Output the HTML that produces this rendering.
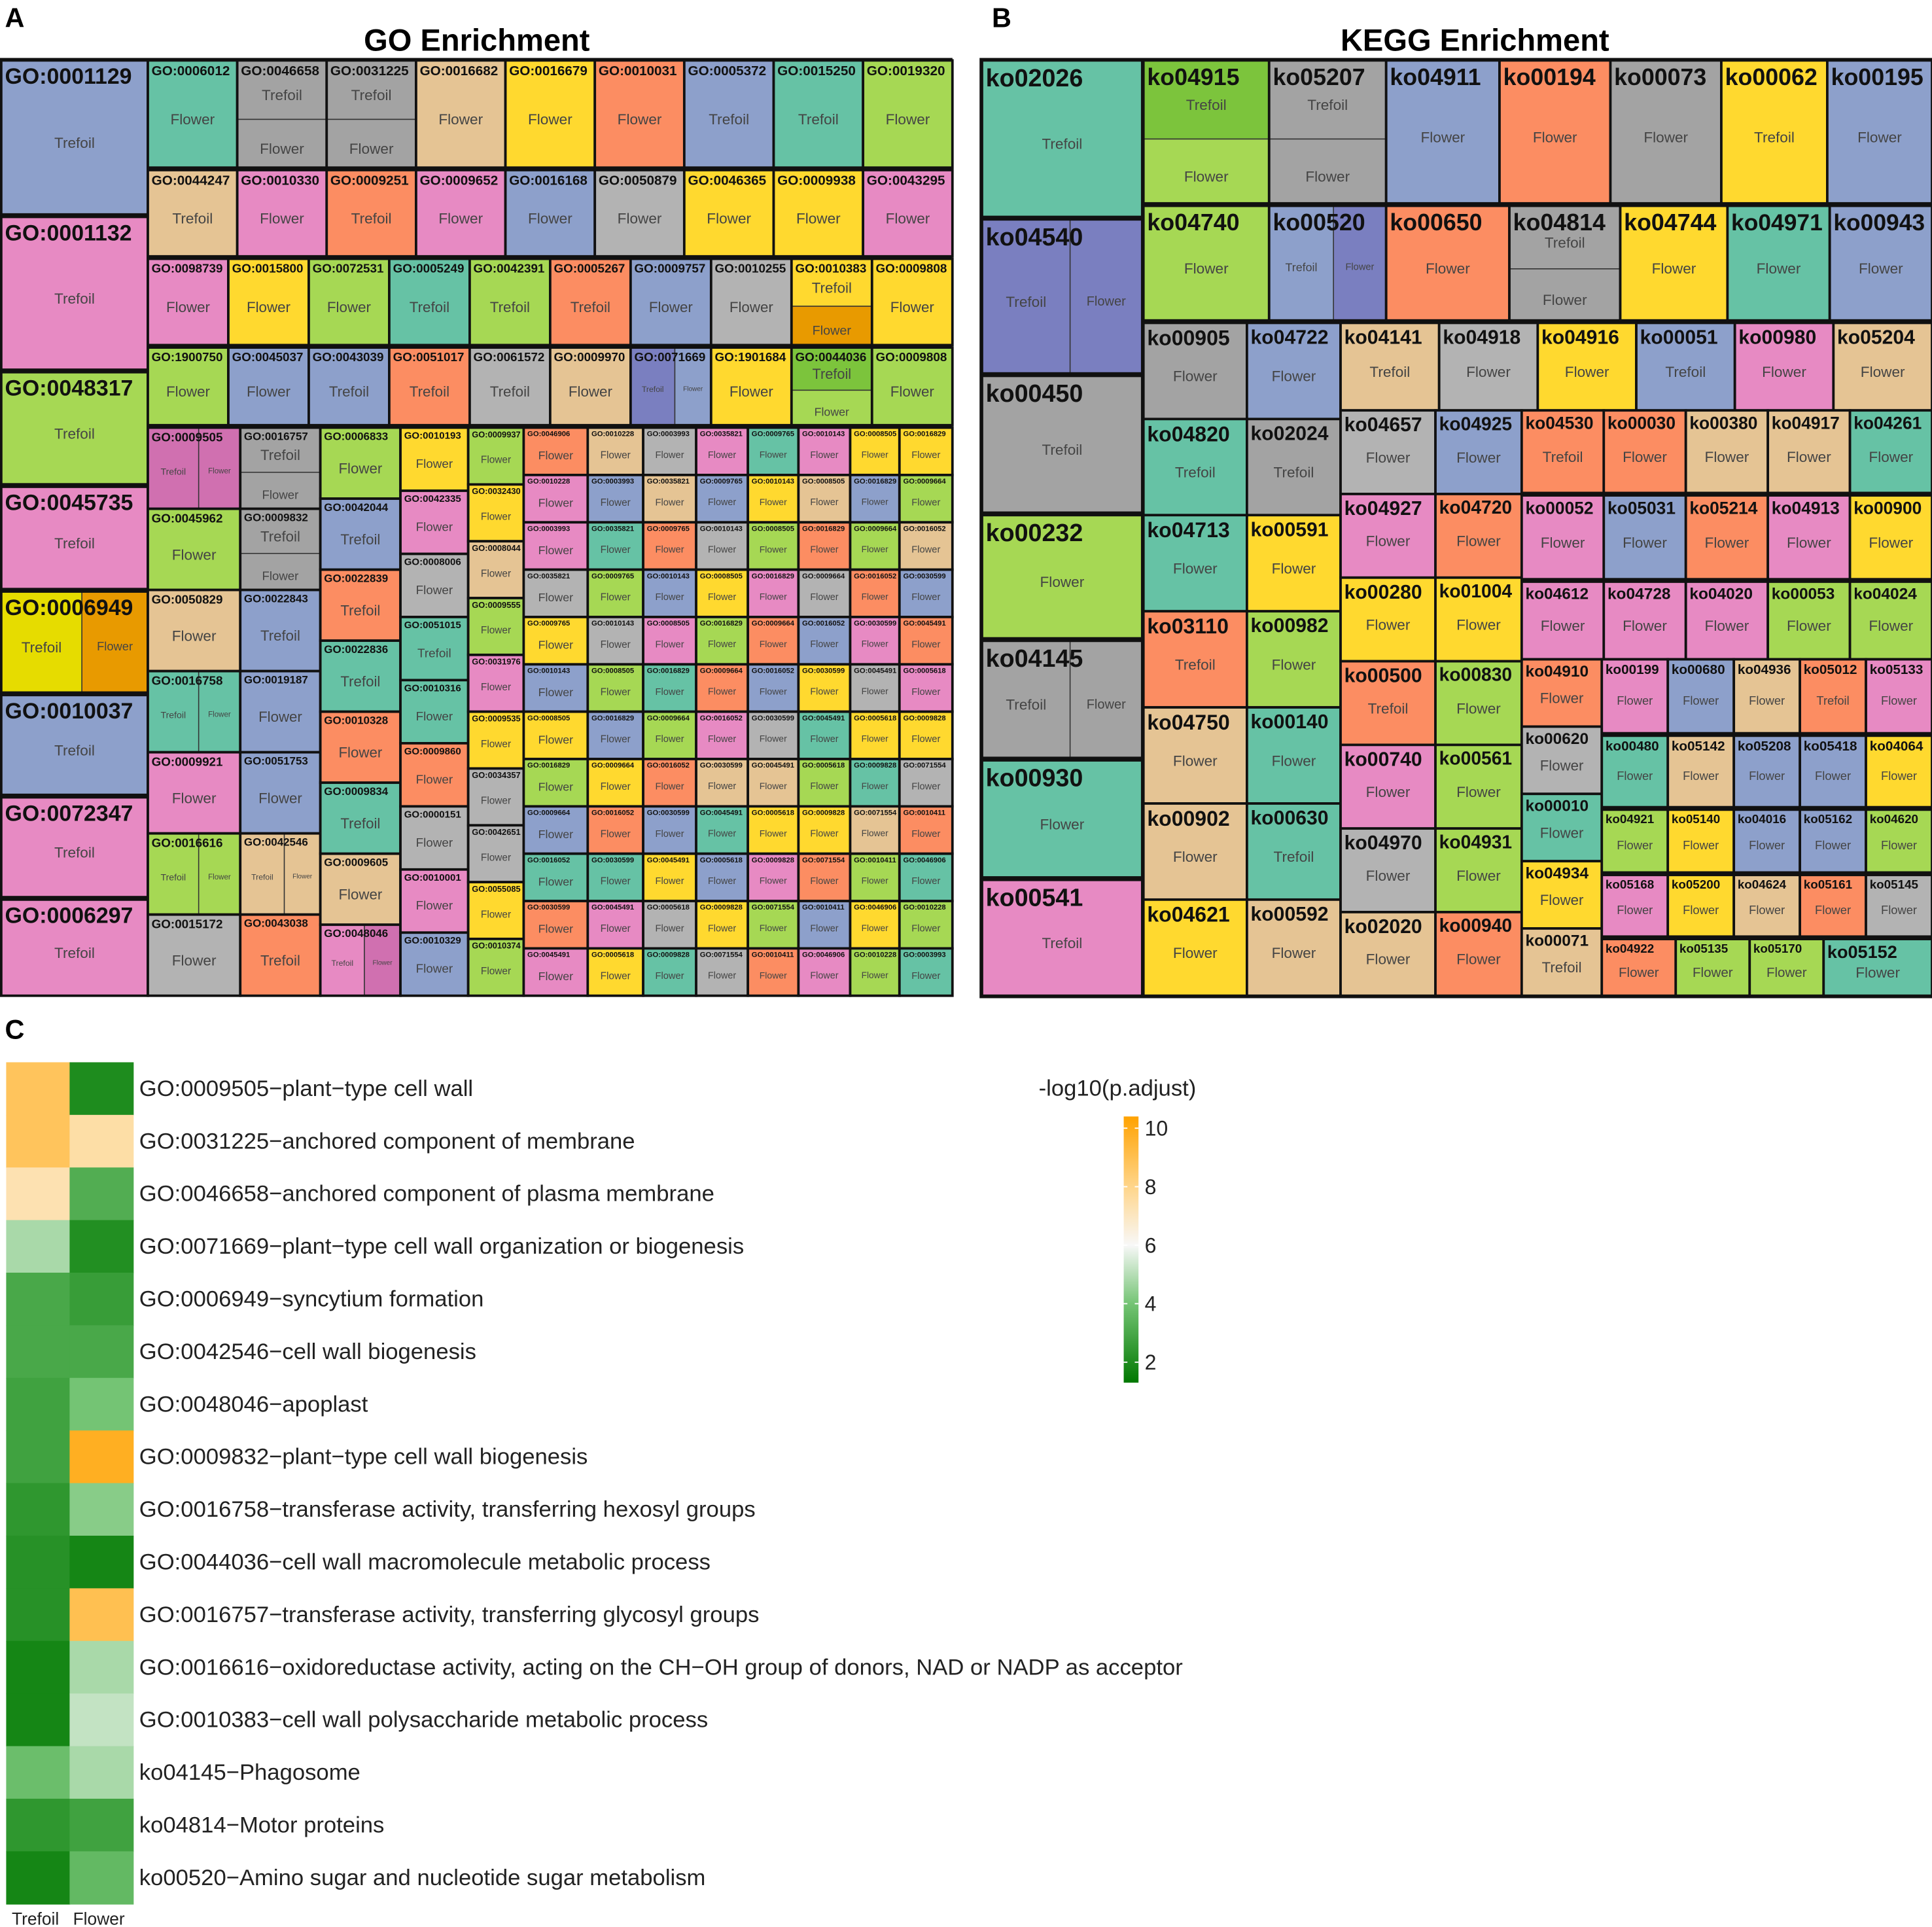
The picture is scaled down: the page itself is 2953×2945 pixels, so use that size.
<!DOCTYPE html>
<html><head><meta charset="utf-8"><style>
html,body{margin:0;padding:0;background:#fff}
svg{display:block}
text{font-family:"Liberation Sans",Arial,sans-serif}
</style></head><body>
<svg id="fig" width="2953" height="2945" viewBox="0 0 1568 1563.7" xmlns="http://www.w3.org/2000/svg">
<rect x="0" y="0" width="1568" height="1564" fill="#fff"/>
<text x="4" y="22" font-size="22" font-weight="bold">A</text>
<text x="387" y="41" font-size="25" font-weight="bold" text-anchor="middle">GO Enrichment</text>
<text x="805" y="22" font-size="22" font-weight="bold">B</text>
<text x="1197" y="41" font-size="25" font-weight="bold" text-anchor="middle">KEGG Enrichment</text>
<text x="4" y="843" font-size="22" font-weight="bold">C</text>
<g id="go"></g>
<g id="kegg"></g>
<g id="heat"></g>
<g id="legend"></g>
</svg>
<script>
// ---- heatmap data ----
const rowLabels=["GO:0009505\u2212plant\u2212type cell wall","GO:0031225\u2212anchored component of membrane","GO:0046658\u2212anchored component of plasma membrane","GO:0071669\u2212plant\u2212type cell wall organization or biogenesis","GO:0006949\u2212syncytium formation","GO:0042546\u2212cell wall biogenesis","GO:0048046\u2212apoplast","GO:0009832\u2212plant\u2212type cell wall biogenesis","GO:0016758\u2212transferase activity, transferring hexosyl groups","GO:0044036\u2212cell wall macromolecule metabolic process","GO:0016757\u2212transferase activity, transferring glycosyl groups","GO:0016616\u2212oxidoreductase activity, acting on the CH\u2212OH group of donors, NAD or NADP as acceptor","GO:0010383\u2212cell wall polysaccharide metabolic process","ko04145\u2212Phagosome","ko04814\u2212Motor proteins","ko00520\u2212Amino sugar and nucleotide sugar metabolism"];
const colLabels=["Trefoil","Flower"];
const trefoilVals=[8.8,8.8,7.3,4.8,3.0,3.0,2.8,2.8,2.4,2.2,2.2,1.8,1.8,3.8,2.4,1.8];
const flowerVals=[2.0,7.5,3.2,2.1,2.6,3.0,4.0,9.8,4.3,1.8,9.0,4.8,5.2,4.8,2.8,3.6];
const legendTicks=[2,4,6,8,10];

const NS="http://www.w3.org/2000/svg";
function mk(tag,attrs,parent){const e=document.createElementNS(NS,tag);for(const k in attrs)e.setAttribute(k,attrs[k]);parent.appendChild(e);return e;}
const stops=[[1.3,[0,120,0]],[4,[116,196,116]],[6,[248,248,248]],[8,[255,213,138]],[10.4,[255,162,0]]];
function col(v){for(let i=0;i<stops.length-1;i++){const a=stops[i],b=stops[i+1];if(v<=b[0]||i==stops.length-2){let t=Math.max(0,Math.min(1,(v-a[0])/(b[0]-a[0])));const c=a[1].map((x,j)=>Math.round(x+(b[1][j]-x)*t));return `rgb(${c})`;}}}
const heat=document.getElementById('heat');
const hy0=862,hy1=1545,rh=(hy1-hy0)/rowLabels.length,cx0=5,cw=51.5;
const yRow=i=>hy0+i*rh, xCol=j=>cx0+j*cw;
[trefoilVals,flowerVals].forEach((vals,j)=>{vals.forEach((v,i)=>{
 const r=mk('rect',{x:xCol(j),y:yRow(i),width:cw+0.5,height:rh+0.5,fill:col(v)},heat);
 
 
});});
rowLabels.forEach((l,i)=>{const t=mk('text',{x:113,y:yRow(i)+rh/2+6,'font-size':18.4,fill:'#222'},heat);t.textContent=l;
 
 });
colLabels.forEach((l,j)=>{const t=mk('text',{x:xCol(j)+cw/2-2,y:1562,'font-size':14,'text-anchor':'middle',fill:'#222'},heat);t.textContent=l;
 
 });
// legend
const lg=document.getElementById('legend');
const lv0=1.3,lv1=10.4,ly0=1122,ly1=906;
const yL=v=>ly0+(v-lv0)/(lv1-lv0)*(ly1-ly0);
const defs=mk('defs',{},lg);const gr=mk('linearGradient',{id:'lgrad',x1:0,y1:1,x2:0,y2:0},defs);
stops.forEach(s=>mk('stop',{offset:(s[0]-lv0)/(lv1-lv0),'stop-color':`rgb(${s[1]})`},gr));
const lb=mk('rect',{x:912,y:ly1,width:12,height:ly0-ly1,fill:'url(#lgrad)'},lg);


const lt=mk('text',{x:843,y:889,'font-size':18.4,fill:'#222'},lg);lt.textContent='-log10(p.adjust)';
legendTicks.forEach(v=>{mk('line',{x1:912,x2:915,y1:yL(v),y2:yL(v),stroke:'#fff'},lg);mk('line',{x1:921,x2:924,y1:yL(v),y2:yL(v),stroke:'#fff'},lg);
 const t=mk('text',{x:929,y:yL(v)+6,'font-size':17,fill:'#222'},lg);t.textContent=v;
 
 });

// ---- treemaps ----
const P={b:'#8DA0CB',p:'#E78AC3',g:'#A6D854',y:'#FFD92F',t:'#E5C494',r:'#B3B3B3',a:'#A3A3A3',q:'#66C2A5',o:'#FC8D62',Y:'#E6DC00',O:'#E89A00',G:'#7CC43C',u:'#7A7FC0',m:'#D070B0'};
const trefoilSet=new Set(['GO:0001129','GO:0001132','GO:0048317','GO:0045735','GO:0010037','GO:0072347','GO:0006297','GO:0005372','GO:0015250','GO:0044247','GO:0009251','GO:0005249','GO:0042391','GO:0005267','GO:0043039','GO:0051017','GO:0061572','GO:0042044','GO:0022839','GO:0022836','GO:0009834','GO:0051015','GO:0043038','GO:0022843',
'ko02026','ko00450','ko00541','ko04820','ko02024','ko03110','ko00630','ko04141','ko00051','ko04530','ko00500','ko05012','ko00062','ko00071']);
function tile(g,x,y,w,h,spec,id,maxF){
 const sub=spec.length>1?null:(trefoilSet.has(id)?'Trefoil':'Flower');
 if(spec.length>1){
  const c1=P[spec[0]],c2=P[spec[1]];
  if(spec[2]=='|'){const w1=w*0.55;box(g,x,y,w1,h,c1,'Trefoil');box(g,x+w1,y,w-w1,h,c2,'Flower');}
  else{const h1=h*0.55;box(g,x,y,w,h1,c1,'Trefoil');box(g,x,y+h1,w,h-h1,c2,'Flower');}
 } else box(g,x,y,w,h,P[spec],sub);
 mk('rect',{x:x,y:y,width:w,height:h,fill:'none',stroke:'#111','stroke-width':2},g);
 const f=Math.min(maxF,(w-4)/(id.length*0.6),h/3.2);
 const t=mk('text',{x:x+3,y:y+f+1,'font-size':f,'font-weight':'bold',fill:'#111'},g);t.textContent=id;
 
 
}
function box(g,x,y,w,h,c,sub){
 const r=mk('rect',{x:x,y:y,width:w,height:h,fill:c,stroke:'#333','stroke-width':0.8},g);
 
 
 if(sub){const f=Math.min(12,w/5.5,h/3);if(f>4){const t=mk('text',{x:x+w/2,y:y+h/2+f*0.7,'font-size':f,'text-anchor':'middle',fill:'#444'},g);t.textContent=sub;
  
  }}
}
function stackV(g,x0,x1,y0,y1,items,pre,maxF){const n=items.length,h=(y1-y0)/n;items.forEach((it,i)=>tile(g,x0,y0+i*h,x1-x0,h,it[0],pre+it[1],maxF));}
function rowH(g,x0,x1,y0,y1,items,pre,maxF){const n=items.length,w=(x1-x0)/n;items.forEach((it,i)=>tile(g,x0+i*w,y0,w,y1-y0,it[0],pre+it[1],maxF));}
function ex(specStr,ids){return specStr.split(' ').map((s,i)=>[s,ids[i%ids.length]]);}

const go=document.getElementById('go');
mk('rect',{x:0,y:47,width:773,height:761,fill:'#111'},go);
const left=[[49,174,'b','0001129'],[176,300,'p','0001132'],[302,393,'g','0048317'],[395,478,'p','0045735'],[480,562,'YO|','0006949'],[564,645,'b','0010037'],[647,728,'p','0072347'],[730,808,'p','0006297']];
left.forEach(l=>tile(go,1,l[0],119,l[1]-l[0],l[2],'GO:'+l[3],18));
rowH(go,120,773,49,136,ex('q aa- aa- t y o b q g',['0006012','0046658','0031225','0016682','0016679','0010031','0005372','0015250','0019320']),'GO:',11);
rowH(go,120,773,138,208,ex('t p o p b r y y p',['0044247','0010330','0009251','0009652','0016168','0050879','0046365','0009938','0043295']),'GO:',11);
rowH(go,120,773,210,280,ex('p y g q g o b r yO- y',['0098739','0015800','0072531','0005249','0042391','0005267','0009757','0010255','0010383','0009808']),'GO:',10);
rowH(go,120,773,282,345,ex('g b b o r t ub| y Gg- g',['1900750','0045037','0043039','0051017','0061572','0009970','0071669','1901684','0044036','0009808']),'GO:',10);
stackV(go,120,195,347,808,ex('mm| g t qq| p gg| r',['0009505','0045962','0050829','0016758','0009921','0016616','0015172']),'GO:',10);
stackV(go,195,260,347,808,ex('aa- aa- b b b tt| o',['0016757','0009832','0022843','0019187','0051753','0042546','0043038']),'GO:',9);
stackV(go,260,325,347,808,ex('g b o q o q t pm|',['0006833','0042044','0022839','0022836','0010328','0009834','0009605','0048046']),'GO:',9);
stackV(go,325,380,347,808,ex('y p r q q o r p b',['0010193','0042335','0008006','0051015','0010316','0009860','0000151','0010001','0010329']),'GO:',8);
stackV(go,380,425,347,808,ex('g y t g p y r r y g',['0009937','0032430','0008044','0009555','0031976','0009535','0034357','0042651','0055085','0010374']),'GO:',7);
const cols=[['o p p r y b y g b q o p',425],['t b q g r g b y o q p y',477],['r t o b p q g o b y r q',522],['p b r y g o p t q b y r',565],['q y g p o b r t y p g o',607],['p t o r b y q g y o b p',648],['y b g o p r y q t g y g',690],['y g t b o p y r o q g q',730]];
const smallIds=['0046906','0010228','0003993','0035821','0009765','0010143','0008505','0016829','0009664','0016052','0030599','0045491','0005618','0009828','0071554','0010411'];
cols.forEach((c,k)=>{const x1=k<cols.length-1?cols[k+1][1]:773;stackV(go,c[1],x1,347,808,ex(c[0],smallIds.slice(k).concat(smallIds)),'GO:',6);});

const kg=document.getElementById('kegg');
mk('rect',{x:795,y:47,width:773,height:763,fill:'#111'},kg);
[[49,176,'q','02026'],[178,303,'uu|','04540'],[305,416,'a','00450'],[418,518,'g','00232'],[520,615,'aa|','04145'],[617,712,'q','00930'],[714,808,'p','00541']].forEach(l=>tile(kg,797,l[0],130,l[1]-l[0],l[2],'ko'+l[3],20));
const kx=[928,1030,1125,1217,1307,1397,1483,1568];
{const sp='Gg- aa- b o a y b'.split(' ');const ids=['04915','05207','04911','00194','00073','00062','00195'];sp.forEach((c,i)=>tile(kg,kx[i],49,kx[i+1]-kx[i],116,c,'ko'+ids[i],19));}
const kx2=[928,1030,1125,1225,1315,1402,1485,1568];
{const sp='g bu| o aa- y q b'.split(' ');const ids=['04740','00520','00650','04814','04744','04971','00943'];sp.forEach((c,i)=>tile(kg,kx2[i],167,kx2[i+1]-kx2[i],93,c,'ko'+ids[i],19));}
stackV(kg,928,1012,262,808,ex('a q q o t t y',['00905','04820','04713','03110','04750','00902','04621']),'ko',17);
stackV(kg,1012,1088,262,808,ex('b a y g q q t',['04722','02024','00591','00982','00140','00630','00592']),'ko',16);
rowH(kg,1088,1568,262,333,ex('t r y b p t',['04141','04918','04916','00051','00980','05204']),'ko',16);
stackV(kg,1088,1165,333,808,ex('r p y o p r t',['04657','04927','00280','00500','00740','04970','02020']),'ko',16);
stackV(kg,1165,1235,333,808,ex('b o y g g g o',['04925','04720','01004','00830','00561','04931','00940']),'ko',15);
rowH(kg,1235,1568,333,400,ex('o o t t q',['04530','00030','00380','04917','04261']),'ko',14);
rowH(kg,1235,1568,402,470,ex('p b o p y',['00052','05031','05214','04913','00900']),'ko',14);
rowH(kg,1235,1568,472,535,ex('p p p g g',['04612','04728','04020','00053','04024']),'ko',13);
stackV(kg,1235,1300,535,808,ex('o r q y t',['04910','00620','00010','04934','00071']),'ko',13);
rowH(kg,1300,1568,535,595,ex('p b t o p',['00199','00680','04936','05012','05133']),'ko',11);
rowH(kg,1300,1568,597,655,ex('q t b b y',['00480','05142','05208','05418','04064']),'ko',11);
rowH(kg,1300,1568,657,708,ex('g y b b g',['04921','05140','04016','05162','04620']),'ko',10);
rowH(kg,1300,1568,710,760,ex('p y t o r',['05168','05200','04624','05161','05145']),'ko',10);
rowH(kg,1300,1480,762,808,ex('o g g',['04922','05135','05170']),'ko',10);
tile(kg,1480,762,88,46,'q','ko05152',18);
</script>
</body></html>
